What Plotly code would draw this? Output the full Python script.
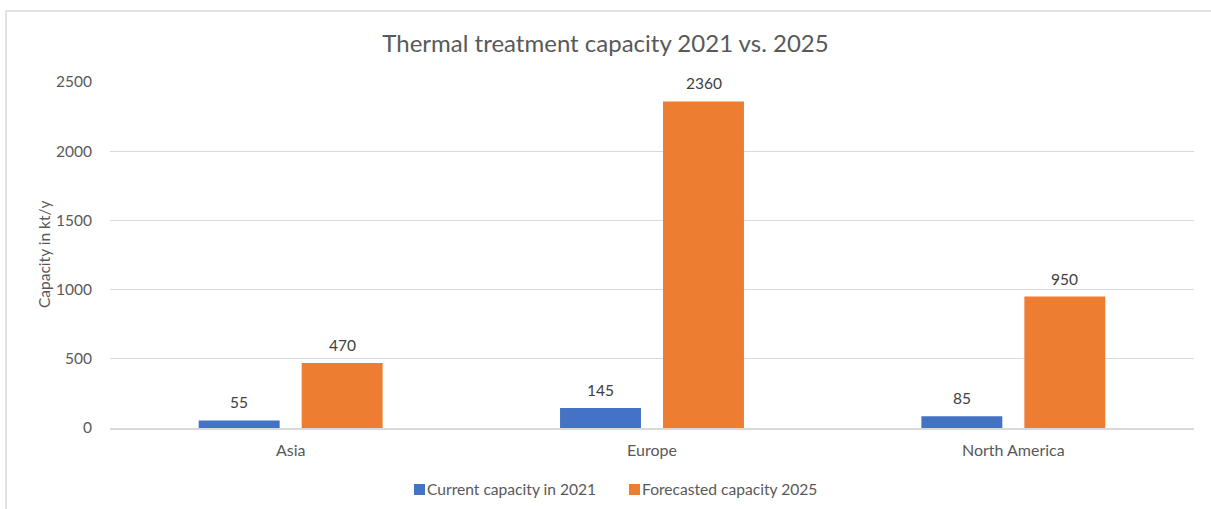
import plotly.graph_objects as go

regions = ["Asia", "Europe", "North America"]
current_2021 = [55, 145, 85]
forecast_2025 = [470, 2360, 950]
y_ticks = [0, 500, 1000, 1500, 2000, 2500]

FONT = "Lato, Carlito, Calibri, sans-serif"
TEXT_GREY = "#595959"
LABEL_GREY = "#404040"
GRID = "#d9d9d9"
COLORS = ["#4472C4", "#ED7D31"]
NAMES = ["Current capacity in 2021", "Forecasted capacity 2025"]

W, H = 1211, 509
L, R, T, B = 110, 17, 82, 81
PLOT_W, PLOT_H = W - L - R, H - T - B


def px(x):
    """Pixel column -> paper x."""
    return (x - L) / PLOT_W


def py(y):
    """Pixel row -> paper y."""
    return (H - B - y) / PLOT_H


fig = go.Figure()
for name, values, color in zip(NAMES, [current_2021, forecast_2025], COLORS):
    fig.add_trace(go.Bar(
        name=name, x=regions, y=values, showlegend=False,
        marker=dict(color=color, line=dict(width=0)),
    ))

annotations = []
# value labels above each bar, shifted to its slot within the group
for idx, values in enumerate([current_2021, forecast_2025]):
    for i, v in enumerate(values):
        annotations.append(dict(
            x=i, y=v, xref="x", yref="y", text=str(v), showarrow=False,
            xanchor="center", yanchor="bottom", yshift=7,
            xshift=(-1 if idx == 0 else 1) * 51.5,
            font=dict(size=15.5, color=LABEL_GREY, family=FONT)))

annotations.append(dict(text="Capacity in kt/y", textangle=-90,
                        xref="paper", yref="paper", x=px(44), y=0.5,
                        showarrow=False, xanchor="center", yanchor="middle",
                        font=dict(size=15.5, color=TEXT_GREY, family=FONT)))

# legend: small colour squares followed by their series names
shapes = [dict(type="rect", xref="paper", yref="paper",
               x0=px(6), x1=px(W + 10), y0=py(H + 20), y1=py(11),
               line=dict(color=GRID, width=1.5), fillcolor="rgba(0,0,0,0)",
               layer="below")]
legend_x = [414, 629]
for lx, name, color in zip(legend_x, NAMES, COLORS):
    shapes.append(dict(type="rect", xref="paper", yref="paper",
                       x0=px(lx), x1=px(lx + 11), y0=py(495), y1=py(484),
                       line=dict(width=0), fillcolor=color))
    annotations.append(dict(text=name, xref="paper", yref="paper",
                            x=px(lx + 11), y=py(489.5), showarrow=False,
                            xanchor="left", yanchor="middle",
                            font=dict(size=15.6, color=TEXT_GREY, family=FONT)))

fig.update_layout(
    width=W, height=H,
    margin=dict(l=L, r=R, t=T, b=B, autoexpand=False),
    paper_bgcolor="white", plot_bgcolor="white",
    barmode="group", bargap=0.43, bargroupgap=0.214,
    font=dict(family=FONT, color=TEXT_GREY, size=15),
    title=dict(text="Thermal treatment capacity 2021 vs. 2025",
               x=0.5, xanchor="center", y=1 - 44 / H, yanchor="middle",
               font=dict(size=24, color=TEXT_GREY, family=FONT)),
    showlegend=False,
    xaxis=dict(showgrid=False, showline=True, linecolor=GRID, linewidth=1.5,
               ticks="outside", ticklen=7, tickcolor="rgba(0,0,0,0)",
               tickfont=dict(size=16, color=TEXT_GREY, family=FONT)),
    yaxis=dict(range=[0, 2500], tickvals=y_ticks, showgrid=True,
               gridcolor=GRID, gridwidth=1.2, zeroline=False, showline=False,
               ticks="outside", ticklen=14, tickcolor="rgba(0,0,0,0)",
               tickfont=dict(size=15.5, color=TEXT_GREY, family=FONT)),
    annotations=annotations,
    shapes=shapes,
)

fig.write_html("out.html")
